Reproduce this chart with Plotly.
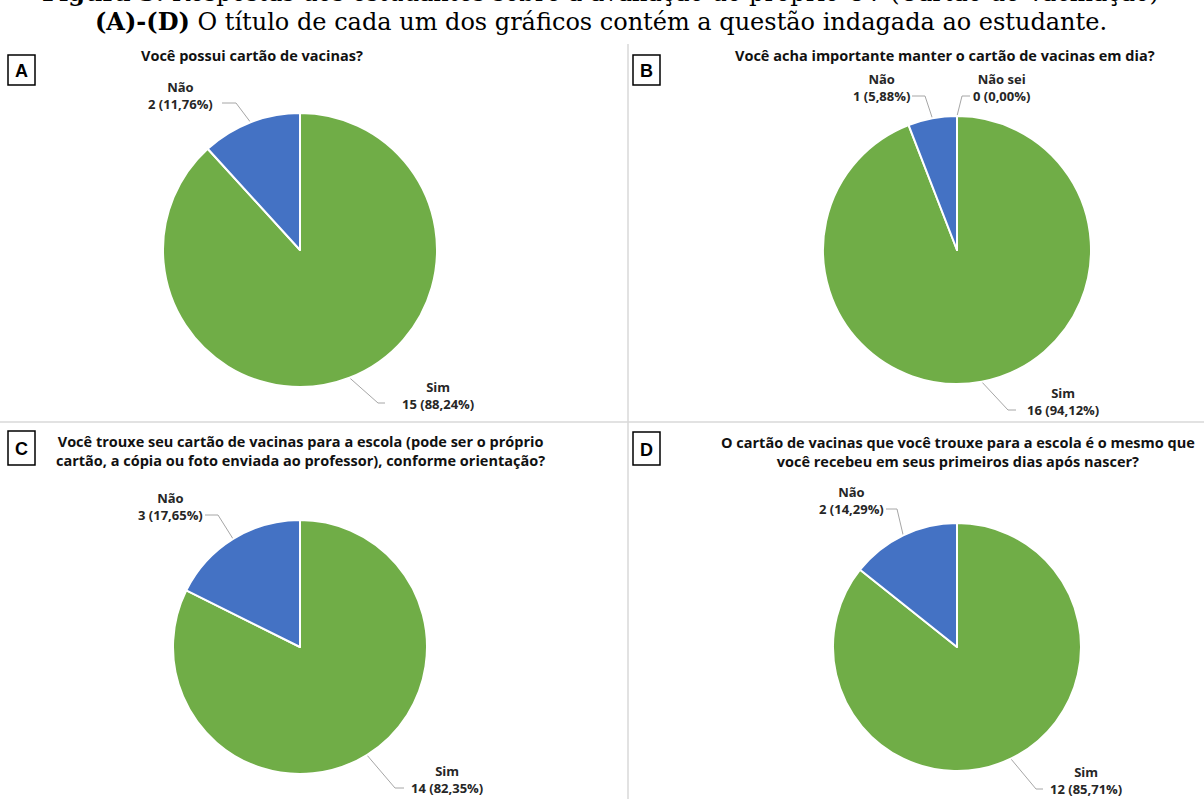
import numpy as np
import plotly.graph_objects as go

W, H = 1204, 799

# ---------------- data ----------------
panel_ids = ["A", "B", "C", "D"]
labels_A = ["Sim", "Não"]
counts_A = [15, 2]
labels_B = ["Sim", "Não", "Não sei"]
counts_B = [16, 1, 0]
labels_C = ["Sim", "Não"]
counts_C = [14, 3]
labels_D = ["Sim", "Não"]
counts_D = [12, 2]
titles = {
    "A": "Você possui cartão de vacinas?",
    "B": "Você acha importante manter o cartão de vacinas em dia?",
    "C": "Você trouxe seu cartão de vacinas para a escola (pode ser o próprio<br>cartão, a cópia ou foto enviada ao professor), conforme orientação?",
    "D": "O cartão de vacinas que você trouxe para a escola é o mesmo que<br>você recebeu em seus primeiros dias após nascer?",
}
header_top = "<b>Figura 3.</b> Respostas dos estudantes sobre a avaliação do próprio CV (Cartão de Vacinação)"
header = "<b>(A)-(D)</b> O título de cada um dos gráficos contém a questão indagada ao estudante."

data = {"A": (labels_A, counts_A), "B": (labels_B, counts_B),
        "C": (labels_C, counts_C), "D": (labels_D, counts_D)}

# ---------------- layout / style ----------------
colors = {"Sim": "#70AD47", "Não": "#4472C4", "Não sei": "#A5A5A5"}
pie_geom = {"A": (300, 250, 137), "B": (957, 250, 134),
            "C": (300, 647, 127), "D": (957, 647, 124)}
title_pos = {"A": (252, 55), "B": (945, 55), "C": (300, 451), "D": (958, 452)}
box_pos = {"A": (8, 55, 35, 85), "B": (633, 55, 660, 85),
           "C": (8, 431, 35, 465), "D": (633, 432, 660, 465)}
# label text centre, anchor of leader line at the text, elbow
label_pos = {
    ("A", "Não"): ((180, 95), (222, 103), (236, 103)),
    ("A", "Sim"): ((438, 395), (385, 403), (378, 403)),
    ("B", "Não"): ((881, 87), (912, 96), (925, 96)),
    ("B", "Não sei"): ((1001, 87), (970, 96), (962, 96)),
    ("B", "Sim"): ((1063, 401), (1016, 410), (1008, 410)),
    ("C", "Não"): ((170, 506), (205, 515), (218, 515)),
    ("C", "Sim"): ((447, 779), (404, 788), (395, 788)),
    ("D", "Não"): ((851, 500), (886, 509), (897, 509)),
    ("D", "Sim"): ((1086, 780), (1043, 789), (1036, 789)),
}

FONT = "Open Sans"
fig = go.Figure()

# overlay pixel axes
fig.add_trace(go.Scatter(x=[0, W], y=[0, H], mode="markers",
                         marker=dict(opacity=0), hoverinfo="skip", showlegend=False))

annotations = []
shapes = []

def fmt_pct(v):
    return f"{v:.2f}".replace(".", ",")

for pid in panel_ids:
    labs, cnts = data[pid]
    cx, cy, r = pie_geom[pid]
    fig.add_trace(go.Pie(
        labels=labs, values=cnts, sort=False, direction="clockwise", rotation=0,
        marker=dict(colors=[colors[l] for l in labs], line=dict(color="white", width=2)),
        textinfo="none", hoverinfo="label+value+percent", showlegend=False,
        domain=dict(x=[(cx - r) / W, (cx + r) / W], y=[1 - (cy + r) / H, 1 - (cy - r) / H]),
    ))
    total = float(np.sum(cnts))
    fr = np.array(cnts) / total
    ends = np.cumsum(fr)
    starts = ends - fr
    mids = (starts + ends) / 2 * 2 * np.pi
    for lab, c, f, m in zip(labs, cnts, fr, mids):
        ex = cx + r * np.sin(m)
        ey = cy - r * np.cos(m)
        (tx, ty), (ax_, ay_), (elx, ely) = label_pos[(pid, lab)]
        fig.add_trace(go.Scatter(x=[ex, elx, ax_], y=[ey, ely, ay_], mode="lines",
                                 line=dict(color="#A6A6A6", width=1),
                                 hoverinfo="skip", showlegend=False))
        annotations.append(dict(
            x=tx, y=ty, xref="x", yref="y", showarrow=False,
            text=f"<b>{lab}</b><br><b>{c} ({fmt_pct(f * 100)}%)</b>",
            font=dict(family=FONT, size=13, color="#262626"), align="center"))
    tx, ty = title_pos[pid]
    annotations.append(dict(x=tx, y=ty, xref="x", yref="y", showarrow=False,
                            text=f"<b>{titles[pid]}</b>", align="center",
                            font=dict(family=FONT, size=14.5, color="#111111")))
    x0, y0, x1, y1 = box_pos[pid]
    shapes.append(dict(type="rect", xref="x", yref="y", x0=x0, y0=y0, x1=x1, y1=y1,
                       line=dict(color="black", width=1.5), fillcolor="white", layer="above"))
    annotations.append(dict(x=(x0 + x1) / 2, y=(y0 + y1) / 2 + 1, xref="x", yref="y",
                            showarrow=False, text=f"<b>{pid}</b>",
                            font=dict(family="Liberation Sans", size=18, color="black")))

# dividers
shapes.append(dict(type="line", xref="x", yref="y", x0=628, x1=628, y0=44, y1=H,
                   line=dict(color="#D9D9D9", width=1.5), layer="below"))
shapes.append(dict(type="line", xref="x", yref="y", x0=0, x1=W, y0=422, y1=422,
                   line=dict(color="#D9D9D9", width=1.5), layer="below"))

# headers (first line is cut by the top edge as in the reference)
annotations.append(dict(x=600 / W, y=1 + 8 / H, xref="paper", yref="paper",
                        xanchor="center", yanchor="middle", showarrow=False,
                        text=header_top,
                        font=dict(family="DejaVu Serif", size=24, color="black")))
annotations.append(dict(x=601, y=21, xref="x", yref="y", showarrow=False,
                        text=header,
                        font=dict(family="DejaVu Serif", size=24, color="black")))

fig.update_layout(
    width=W, height=H, margin=dict(l=0, r=0, t=0, b=0),
    paper_bgcolor="white", plot_bgcolor="rgba(0,0,0,0)",
    xaxis=dict(range=[0, W], visible=False, fixedrange=True),
    yaxis=dict(range=[H, 0], visible=False, fixedrange=True),
    annotations=annotations, shapes=shapes,
)

fig.write_html("out.html", config={"displayModeBar": False},
               post_script="document.body.style.margin='0';document.body.style.overflow='hidden';")
